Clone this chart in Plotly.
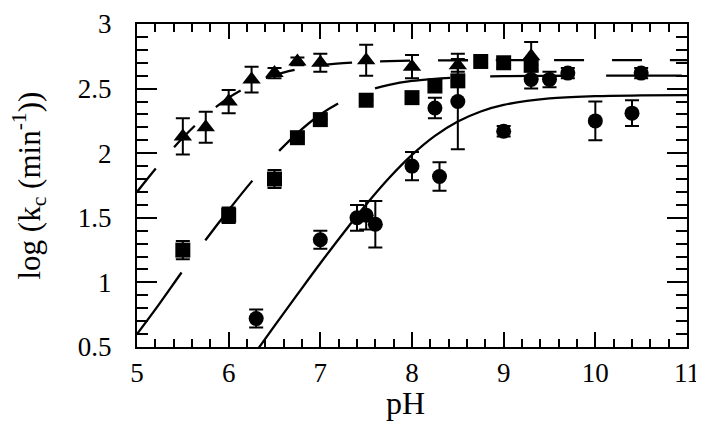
import plotly.graph_objects as go

# ---- data ----
tri_ph  = [5.5, 5.75, 6.0, 6.25, 6.5, 6.75, 7.0, 7.5, 8.0, 8.5, 9.3]
tri_log = [2.13, 2.20, 2.40, 2.57, 2.62, 2.71, 2.70, 2.72, 2.67, 2.68, 2.75]
tri_err = [0.14, 0.12, 0.09, 0.10, 0.04, 0.03, 0.07, 0.12, 0.09, 0.05, 0.11]

sq_ph  = [5.5, 6.0, 6.5, 6.75, 7.0, 7.5, 8.0, 8.25, 8.5, 8.75, 9.0, 9.3]
sq_log = [1.25, 1.52, 1.80, 2.12, 2.26, 2.41, 2.43, 2.52, 2.56, 2.71, 2.70, 2.68]
sq_err = [0.07, 0.06, 0.07, 0.0, 0.0, 0.0, 0.0, 0.0, 0.0, 0.0, 0.04, 0.0]

ci_ph  = [6.3, 7.0, 7.4, 7.5, 7.6, 8.0, 8.25, 8.3, 8.5, 9.0, 9.3, 9.5, 9.7, 10.0, 10.4, 10.5]
ci_log = [0.72, 1.33, 1.50, 1.52, 1.45, 1.90, 2.35, 1.82, 2.40, 2.17, 2.57, 2.57, 2.62, 2.25, 2.31, 2.62]
ci_err = [0.07, 0.07, 0.10, 0.11, 0.18, 0.11, 0.08, 0.11, 0.37, 0.04, 0.07, 0.06, 0.04, 0.15, 0.10, 0.04]

# fitted curves
fit_ph = [5.0, 5.25, 5.5, 5.75, 6.0, 6.25, 6.5, 6.75, 7.0, 7.25, 7.5, 7.75, 8.0,
          8.25, 8.5, 8.75, 9.0, 9.5, 10.0, 10.5, 11.0]
fit_tri = [1.70, 1.92, 2.12, 2.29, 2.43, 2.53, 2.605, 2.65, 2.68, 2.697, 2.707, 2.712, 2.716,
           2.718, 2.719, 2.72, 2.72, 2.72, 2.72, 2.72, 2.72]
fit_sq = [0.60, 0.84, 1.09, 1.33, 1.56, 1.78, 1.98, 2.156, 2.30, 2.406, 2.481, 2.529, 2.559,
          2.575, 2.586, 2.592, 2.596, 2.599, 2.60, 2.60, 2.60]
fit_ci = [None, None, None, None, None, 0.416, 0.663, 0.907, 1.148, 1.381, 1.603, 1.808, 1.987,
          2.134, 2.245, 2.323, 2.374, 2.425, 2.442, 2.447, 2.449]

x_ticks = [5, 6, 7, 8, 9, 10, 11]
y_ticks = [0.5, 1, 1.5, 2, 2.5, 3]
y_ticktext = ["0.5", "1", "1.5", "2", "2.5", "3"]

x_title = "pH"
y_title = "log (k<sub>c</sub> (min<sup>-1</sup>))"

FONT = "Liberation Serif, Times New Roman, serif"

fig = go.Figure()

fig.add_trace(go.Scatter(x=fit_ph, y=fit_tri, mode="lines", line_shape="spline",
                         line=dict(color="black", width=2.3, dash="30px,28px"),
                         hoverinfo="skip"))
fig.add_trace(go.Scatter(x=fit_ph, y=fit_sq, mode="lines", line_shape="spline",
                         line=dict(color="black", width=2.3, dash="76px,40px"),
                         hoverinfo="skip"))
fig.add_trace(go.Scatter(x=fit_ph, y=fit_ci, mode="lines", line_shape="spline",
                         line=dict(color="black", width=2.3), hoverinfo="skip"))

err_style = dict(type="data", visible=True, color="black", thickness=2, width=7)

fig.add_trace(go.Scatter(x=tri_ph, y=tri_log, mode="markers",
                         marker=dict(symbol="triangle-up", size=16, color="black"),
                         error_y=dict(array=tri_err, **err_style)))
fig.add_trace(go.Scatter(x=sq_ph, y=sq_log, mode="markers",
                         marker=dict(symbol="square", size=15, color="black"),
                         error_y=dict(array=sq_err, **err_style)))
fig.add_trace(go.Scatter(x=ci_ph, y=ci_log, mode="markers",
                         marker=dict(symbol="circle", size=15, color="black"),
                         error_y=dict(array=ci_err, **err_style)))

axis_common = dict(showgrid=False, zeroline=False, showline=True, linecolor="black",
                   linewidth=2, mirror="ticks", ticks="inside", tickcolor="black",
                   tickwidth=2, automargin=False,
                   tickfont=dict(family=FONT, size=27, color="black"))

# the page body adds an 8px margin, so the figure is sized/margined to compensate
fig.update_layout(
    width=696, height=416,
    margin=dict(l=129, r=17, t=16, b=77),
    paper_bgcolor="white", plot_bgcolor="white",
    showlegend=False,
    font=dict(family=FONT, color="black"),
    xaxis=dict(range=[5, 11], tickvals=x_ticks, ticklen=15,
               minor=dict(dtick=0.2, ticks="inside", ticklen=8, tickcolor="black", tickwidth=2),
               ticklabelstandoff=1, **axis_common),
    yaxis=dict(range=[0.5, 3], tickvals=y_ticks, ticktext=y_ticktext,
               ticklen=20,
               minor=dict(dtick=0.1, ticks="inside", ticklen=11, tickcolor="black", tickwidth=2),
               ticklabelstandoff=18, **axis_common),
    annotations=[
        dict(text=x_title, xref="x", yref="paper", x=7.93, y=0, yshift=-76,
             xanchor="center", yanchor="bottom", showarrow=False,
             font=dict(family=FONT, size=32, color="black")),
        dict(text=y_title, xref="paper", yref="paper", x=0, y=0.5, xshift=-108,
             xanchor="center", yanchor="middle", showarrow=False, textangle=-90,
             font=dict(family=FONT, size=31, color="black")),
    ],
)

fig.write_html("out.html")
